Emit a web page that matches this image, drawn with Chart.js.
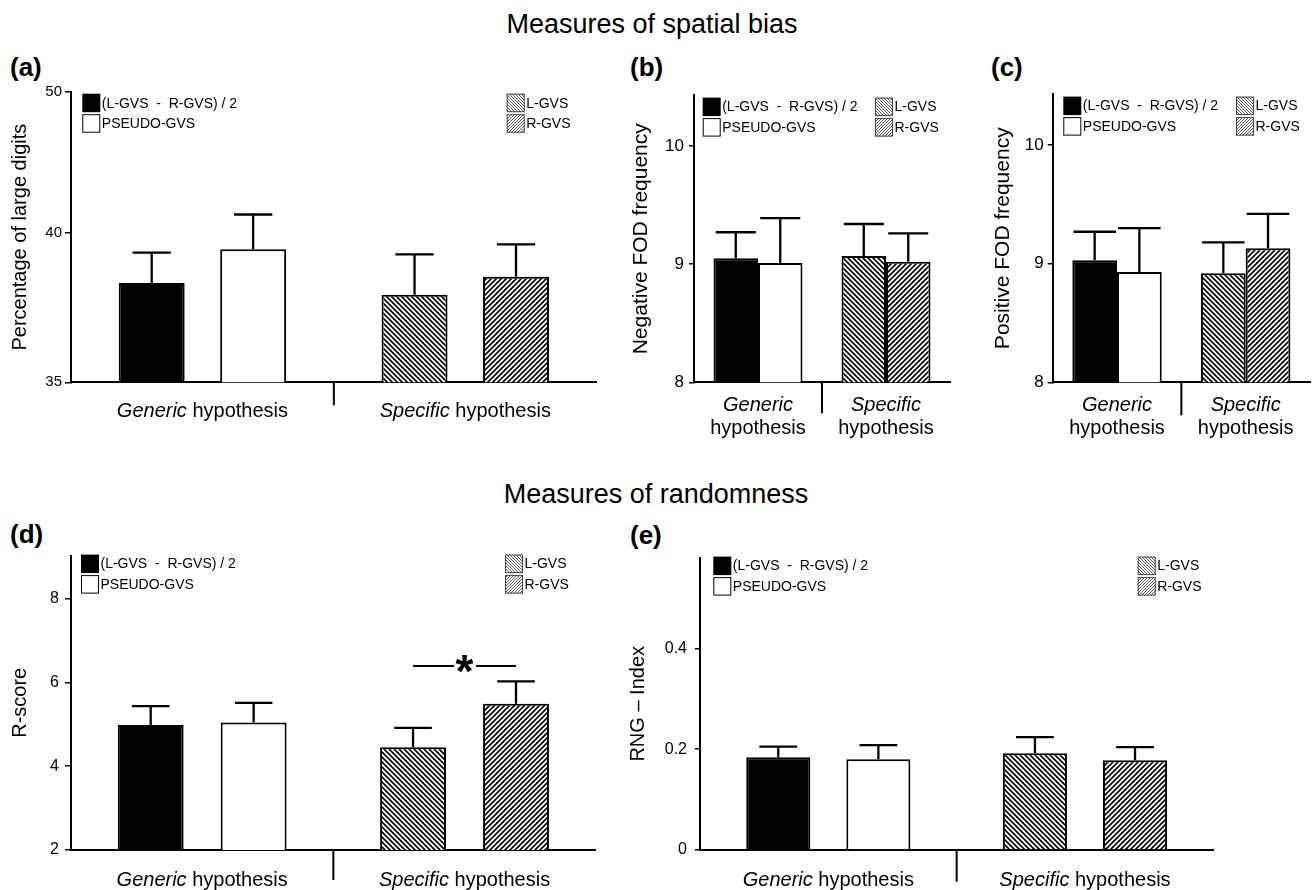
<!DOCTYPE html>
<html lang="en">
<head>
<meta charset="UTF-8">
<title>GVS - spatial bias and randomness</title>
<script src="https://cdn.jsdelivr.net/npm/chart.js@4"></script>
<style>
  body { margin: 0; background: #fff; font-family: "Liberation Sans", Arial, sans-serif; color: #000; }
  #page { position: relative; width: 1313px; height: 890px; overflow: hidden; background: #fff; }
  .panel { position: absolute; }
  .heading { position: absolute; font-size: 27px; line-height: 1; white-space: nowrap; transform: translateX(-50%); }
  .tag { position: absolute; font-size: 26px; font-weight: bold; line-height: 1; white-space: nowrap; }
</style>
</head>
<body>
<div id="page">
  <div class="heading" style="left:652px; top:10.6px">Measures of spatial bias</div>
  <div class="heading" style="left:656px; top:480.5px">Measures of randomness</div>
  <div class="tag" style="left:10px; top:54.2px">(a)</div>
  <div class="tag" style="left:630px; top:54.2px">(b)</div>
  <div class="tag" style="left:991px; top:54.2px">(c)</div>
  <div class="tag" style="left:10px; top:520.8px">(d)</div>
  <div class="tag" style="left:630px; top:522px">(e)</div>

  <canvas id="chartA" class="panel" width="605" height="345" style="left:0; top:80px"></canvas>
  <canvas id="chartB" class="panel" width="335" height="360" style="left:620px; top:80px"></canvas>
  <canvas id="chartC" class="panel" width="333" height="360" style="left:980px; top:80px"></canvas>
  <canvas id="chartD" class="panel" width="605" height="350" style="left:0; top:540px"></canvas>
  <canvas id="chartE" class="panel" width="698" height="350" style="left:615px; top:540px"></canvas>
</div>

<script>
// ---- data ----
const categories = ['Generic hypothesis', 'Specific hypothesis'];
const seriesNames = ['(L-GVS  -  R-GVS) / 2', 'PSEUDO-GVS', 'L-GVS', 'R-GVS'];
// first two series belong to the generic group, last two to the specific group
const seriesCategory = [0, 0, 1, 1];

// (a) percentage of large digits
const largeDigitsMean = [38.32, 39.45, 37.93, 38.53];
const largeDigitsSem = [1.02, 1.85, 1.35, 1.08];
const largeDigitsTicks = [35, 40, 50];

// (b) negative FOD frequency
const negFodMean = [9.05, 9.01, 9.07, 9.02];
const negFodSem = [0.22, 0.38, 0.27, 0.24];

// (c) positive FOD frequency
const posFodMean = [9.03, 8.93, 8.92, 9.13];
const posFodSem = [0.24, 0.37, 0.26, 0.29];
const fodTicks = [8, 9, 10];

// (d) R-score
const rScoreMean = [4.98, 5.04, 4.45, 5.49];
const rScoreSem = [0.45, 0.47, 0.46, 0.53];
const rScoreTicks = [2, 4, 6, 8];
const rScoreSigLevel = 6.39;   // L-GVS vs R-GVS, p < .05

// (e) RNG index
const rngMean = [0.184, 0.180, 0.192, 0.178];
const rngSem = [0.021, 0.028, 0.032, 0.026];
const rngTicks = [0, 0.2, 0.4];

const FONT = '"Liberation Sans", Arial, sans-serif';
Chart.defaults.font.family = FONT;
Chart.defaults.color = '#000';

// axis of panel (a) is not evenly spaced in the original: 35-40 takes about half the height
class BrokenScale extends Chart.LinearScale {
  getPixelForValue(value) {
    if (value === null || isNaN(value)) return NaN;
    const k = this.options.knots;
    let i = 1;
    while (i < k.length - 1 && value > k[i][0]) i++;
    const [v0, f0] = k[i - 1], [v1, f1] = k[i];
    return this.getPixelForDecimal(f0 + (value - v0) / (v1 - v0) * (f1 - f0));
  }
  getValueForPixel(pixel) {
    const k = this.options.knots;
    const d = this.getDecimalForPixel(pixel);
    let i = 1;
    while (i < k.length - 1 && d > k[i][1]) i++;
    const [v0, f0] = k[i - 1], [v1, f1] = k[i];
    return v0 + (d - f0) / (f1 - f0) * (v1 - v0);
  }
}
BrokenScale.id = 'broken';
BrokenScale.defaults = Chart.LinearScale.defaults;
Chart.register(BrokenScale);

function hatch(dir, size, lw, color) {
  const c = document.createElement('canvas');
  c.width = c.height = size;
  const g = c.getContext('2d');
  g.fillStyle = '#fff';
  g.fillRect(0, 0, size, size);
  g.strokeStyle = color;
  g.lineWidth = lw;
  g.beginPath();
  if (dir === 'back') {
    g.moveTo(-1, -1); g.lineTo(size + 1, size + 1);
    g.moveTo(-1, size - 1); g.lineTo(1, size + 1);
    g.moveTo(size - 1, -1); g.lineTo(size + 1, 1);
  } else {
    g.moveTo(-1, size + 1); g.lineTo(size + 1, -1);
    g.moveTo(-1, 1); g.lineTo(1, -1);
    g.moveTo(size - 1, size + 1); g.lineTo(size + 1, size - 1);
  }
  g.stroke();
  return g.createPattern(c, 'repeat');
}

const barFills = ['#000', '#fff', hatch('back', 5, 1.7, '#000'), hatch('fwd', 5, 1.7, '#000')];
const swatchFills = ['#000', '#fff', hatch('back', 3, 0.8, '#333'), hatch('fwd', 3, 0.8, '#333')];

// error bars, divider, category labels, legends, significance mark
const figurePlugin = {
  id: 'figure',
  afterDatasetsDraw(chart, args, opts) {
    const { ctx } = chart;
    const y = chart.scales.y;
    ctx.save();
    ctx.strokeStyle = '#000';
    ctx.lineWidth = 2.3;
    chart.data.datasets.forEach((ds, di) => {
      chart.getDatasetMeta(di).data.forEach((bar, i) => {
        const v = ds.data[i];
        if (v == null) return;
        const yCap = y.getPixelForValue(v + ds.sem);
        const half = bar.width * opts.cap / 2;
        ctx.beginPath();
        ctx.moveTo(bar.x, bar.y);
        ctx.lineTo(bar.x, yCap);
        ctx.moveTo(bar.x - half, yCap);
        ctx.lineTo(bar.x + half, yCap);
        ctx.stroke();
      });
    });
    ctx.restore();
  },
  afterDraw(chart, args, opts) {
    const { ctx, chartArea: ca } = chart;
    const xs = chart.scales.x;
    ctx.save();
    ctx.strokeStyle = '#000';
    ctx.fillStyle = '#000';

    // divider between the two hypotheses
    const mid = (xs.getPixelForValue(0) + xs.getPixelForValue(1)) / 2;
    ctx.lineWidth = 2;
    ctx.beginPath();
    ctx.moveTo(mid, ca.bottom);
    ctx.lineTo(mid, ca.bottom + opts.divLen);
    ctx.stroke();

    // category labels, first word in italics
    const italic = `italic ${opts.labelFs}px ${FONT}`;
    const normal = `${opts.labelFs}px ${FONT}`;
    ctx.textBaseline = 'alphabetic';
    categories.forEach((lab, i) => {
      const cx = xs.getPixelForValue(i);
      const words = lab.split(' ');
      const head = words[0], tail = words.slice(1).join(' ');
      if (opts.stacked) {
        ctx.textAlign = 'center';
        ctx.font = italic;
        ctx.fillText(head, cx, ca.bottom + opts.line1);
        ctx.font = normal;
        ctx.fillText(tail, cx, ca.bottom + opts.line2);
      } else {
        ctx.textAlign = 'left';
        ctx.font = italic;
        const w1 = ctx.measureText(head + ' ').width;
        ctx.font = normal;
        const w2 = ctx.measureText(tail).width;
        const x0 = cx - (w1 + w2) / 2;
        ctx.font = italic;
        ctx.fillText(head + ' ', x0, ca.bottom + opts.line1);
        ctx.font = normal;
        ctx.fillText(tail, x0 + w1, ca.bottom + opts.line1);
      }
    });

    // legends: two boxes top-left, two boxes top-right
    const ds = chart.data.datasets;
    const groups = [
      { idx: [0, 1], x: ca.left + opts.leg.lx },
      { idx: [2, 3], x: ca.right - opts.leg.rx }
    ];
    ctx.font = `14px ${FONT}`;
    ctx.textAlign = 'left';
    ctx.textBaseline = 'middle';
    groups.forEach(g => g.idx.forEach((di, row) => {
      const top = ca.top + opts.leg.ly + row * 20.5;
      ctx.fillStyle = swatchFills[di];
      ctx.fillRect(g.x, top, 18, 18.5);
      if (di !== 0) {
        ctx.lineWidth = 1;
        ctx.strokeStyle = di === 1 ? '#000' : '#444';
        ctx.strokeRect(g.x + 0.5, top + 0.5, 17, 17.5);
      }
      ctx.fillStyle = '#000';
      ctx.fillText(ds[di].label, g.x + 19.5, top + 10);
    }));

    // significance bracket
    if (opts.sig) {
      const yy = chart.scales.y.getPixelForValue(opts.sig.level);
      const xl = chart.getDatasetMeta(2).data[1].x;
      const xr = chart.getDatasetMeta(3).data[1].x;
      const xm = (xl + xr) / 2;
      ctx.strokeStyle = '#000';
      ctx.lineWidth = 2;
      ctx.beginPath();
      ctx.moveTo(xl, yy); ctx.lineTo(xm - 10.5, yy);
      ctx.moveTo(xm + 11.5, yy); ctx.lineTo(xr, yy);
      ctx.stroke();
      ctx.font = `bold 46px ${FONT}`;
      ctx.textAlign = 'center';
      ctx.textBaseline = 'alphabetic';
      ctx.fillText(opts.sig.text, xm, yy + 21);
    }
    ctx.restore();
  }
};

function buildPanel(p) {
  const datasets = seriesNames.map((name, i) => ({
    label: name,
    data: categories.map((c, ci) => ci === seriesCategory[i] ? p.mean[i] : null),
    sem: p.sem[i],
    backgroundColor: barFills[i],
    borderColor: '#000',
    borderWidth: 2,
    categoryPercentage: p.cat,
    barPercentage: p.bar
  }));

  new Chart(document.getElementById(p.id), {
    type: 'bar',
    data: { labels: categories, datasets },
    options: {
      responsive: false,
      animation: false,
      events: [],
      skipNull: true,
      layout: { padding: { top: p.padTop, right: p.padRight, bottom: 0, left: 0 } },
      plugins: {
        legend: { display: false },
        tooltip: { enabled: false },
        figure: {
          cap: p.cap, divLen: p.divLen, labelFs: p.labelFs, stacked: p.stacked,
          line1: p.line1, line2: p.line2, leg: p.leg, sig: p.sig
        }
      },
      scales: {
        x: {
          afterFit: s => { s.height = p.xH; },
          border: { display: true, color: '#000', width: 2 },
          grid: { display: false },
          ticks: { display: false }
        },
        y: {
          type: p.type,
          knots: p.knots,
          min: p.min,
          max: p.max,
          bounds: 'data',
          afterBuildTicks: s => { s.ticks = p.ticks.map(v => ({ value: v })); },
          afterFit: s => { s.width = p.yW; },
          border: { display: true, color: '#000', width: 2 },
          grid: { display: true, drawOnChartArea: false, drawTicks: true, tickLength: p.tickLen, color: '#000', lineWidth: 1.5 },
          ticks: { font: { size: p.tickFs }, color: '#000', padding: p.tickPad, callback: v => String(v) },
          title: { display: true, text: p.title, color: '#000', font: { size: p.titleFs }, padding: { top: p.titlePad, bottom: 0 } }
        }
      }
    },
    plugins: [figurePlugin]
  });
}

const panels = [
  { id: 'chartA', mean: largeDigitsMean, sem: largeDigitsSem, ticks: largeDigitsTicks,
    title: 'Percentage of large digits', type: 'broken', min: 35, max: 50,
    knots: [[35, 0], [40, 0.515], [50, 1]],
    yW: 71, xH: 42.7, padTop: 10, padRight: 8.3, cat: 0.772, bar: 0.65, cap: 0.58,
    tickFs: 15, tickPad: 3, tickLen: 6, titleFs: 20, titlePad: 8,
    stacked: false, labelFs: 20, line1: 35, divLen: 23, leg: { lx: 11.3, rx: 90, ly: 1.7 } },
  { id: 'chartB', mean: negFodMean, sem: negFodSem, ticks: fodTicks,
    title: 'Negative FOD frequency', type: 'linear', min: 8, max: 10.43,
    yW: 74, xH: 57.7, padTop: 9.3, padRight: 5, cat: 0.695, bar: 1.0, cap: 0.9,
    tickFs: 17, tickPad: 5, tickLen: 5, titleFs: 21, titlePad: 8.4,
    stacked: true, labelFs: 20, line1: 28.7, line2: 51.7, divLen: 31, leg: { lx: 8.7, rx: 75, ly: 2.4 } },
  { id: 'chartC', mean: posFodMean, sem: posFodSem, ticks: fodTicks,
    title: 'Positive FOD frequency', type: 'linear', min: 8, max: 10.43,
    yW: 72.7, xH: 57.7, padTop: 9.3, padRight: 3, cat: 0.695, bar: 1.0, cap: 0.95,
    tickFs: 17, tickPad: 4, tickLen: 5, titleFs: 21, titlePad: 10.4,
    stacked: true, labelFs: 20, line1: 28.7, line2: 51.7, divLen: 33, leg: { lx: 10.6, rx: 74, ly: 2.4 } },
  { id: 'chartD', mean: rScoreMean, sem: rScoreSem, ticks: rScoreTicks,
    title: 'R-score', type: 'linear', min: 2, max: 9.02,
    yW: 71, xH: 40, padTop: 11.7, padRight: 9.3, cat: 0.785, bar: 0.64, cap: 0.57,
    tickFs: 16, tickPad: 6, tickLen: 6, titleFs: 20, titlePad: 8,
    stacked: false, labelFs: 20, line1: 36, divLen: 30, leg: { lx: 10, rx: 90.7, ly: -1 },
    sig: { level: rScoreSigLevel, text: '*' } },
  { id: 'chartE', mean: rngMean, sem: rngSem, ticks: rngTicks,
    title: 'RNG \u2013 Index', type: 'linear', min: 0, max: 0.58,
    yW: 85, xH: 40, padTop: 11.7, padRight: 99.7, cat: 0.78, bar: 0.64, cap: 0.59,
    tickFs: 16, tickPad: 8, tickLen: 5, titleFs: 20, titlePad: 11,
    stacked: false, labelFs: 20, line1: 36, divLen: 31.7, leg: { lx: 13.3, rx: 75.6, ly: -1 } }
];

panels.forEach(buildPanel);
</script>
</body>
</html>
